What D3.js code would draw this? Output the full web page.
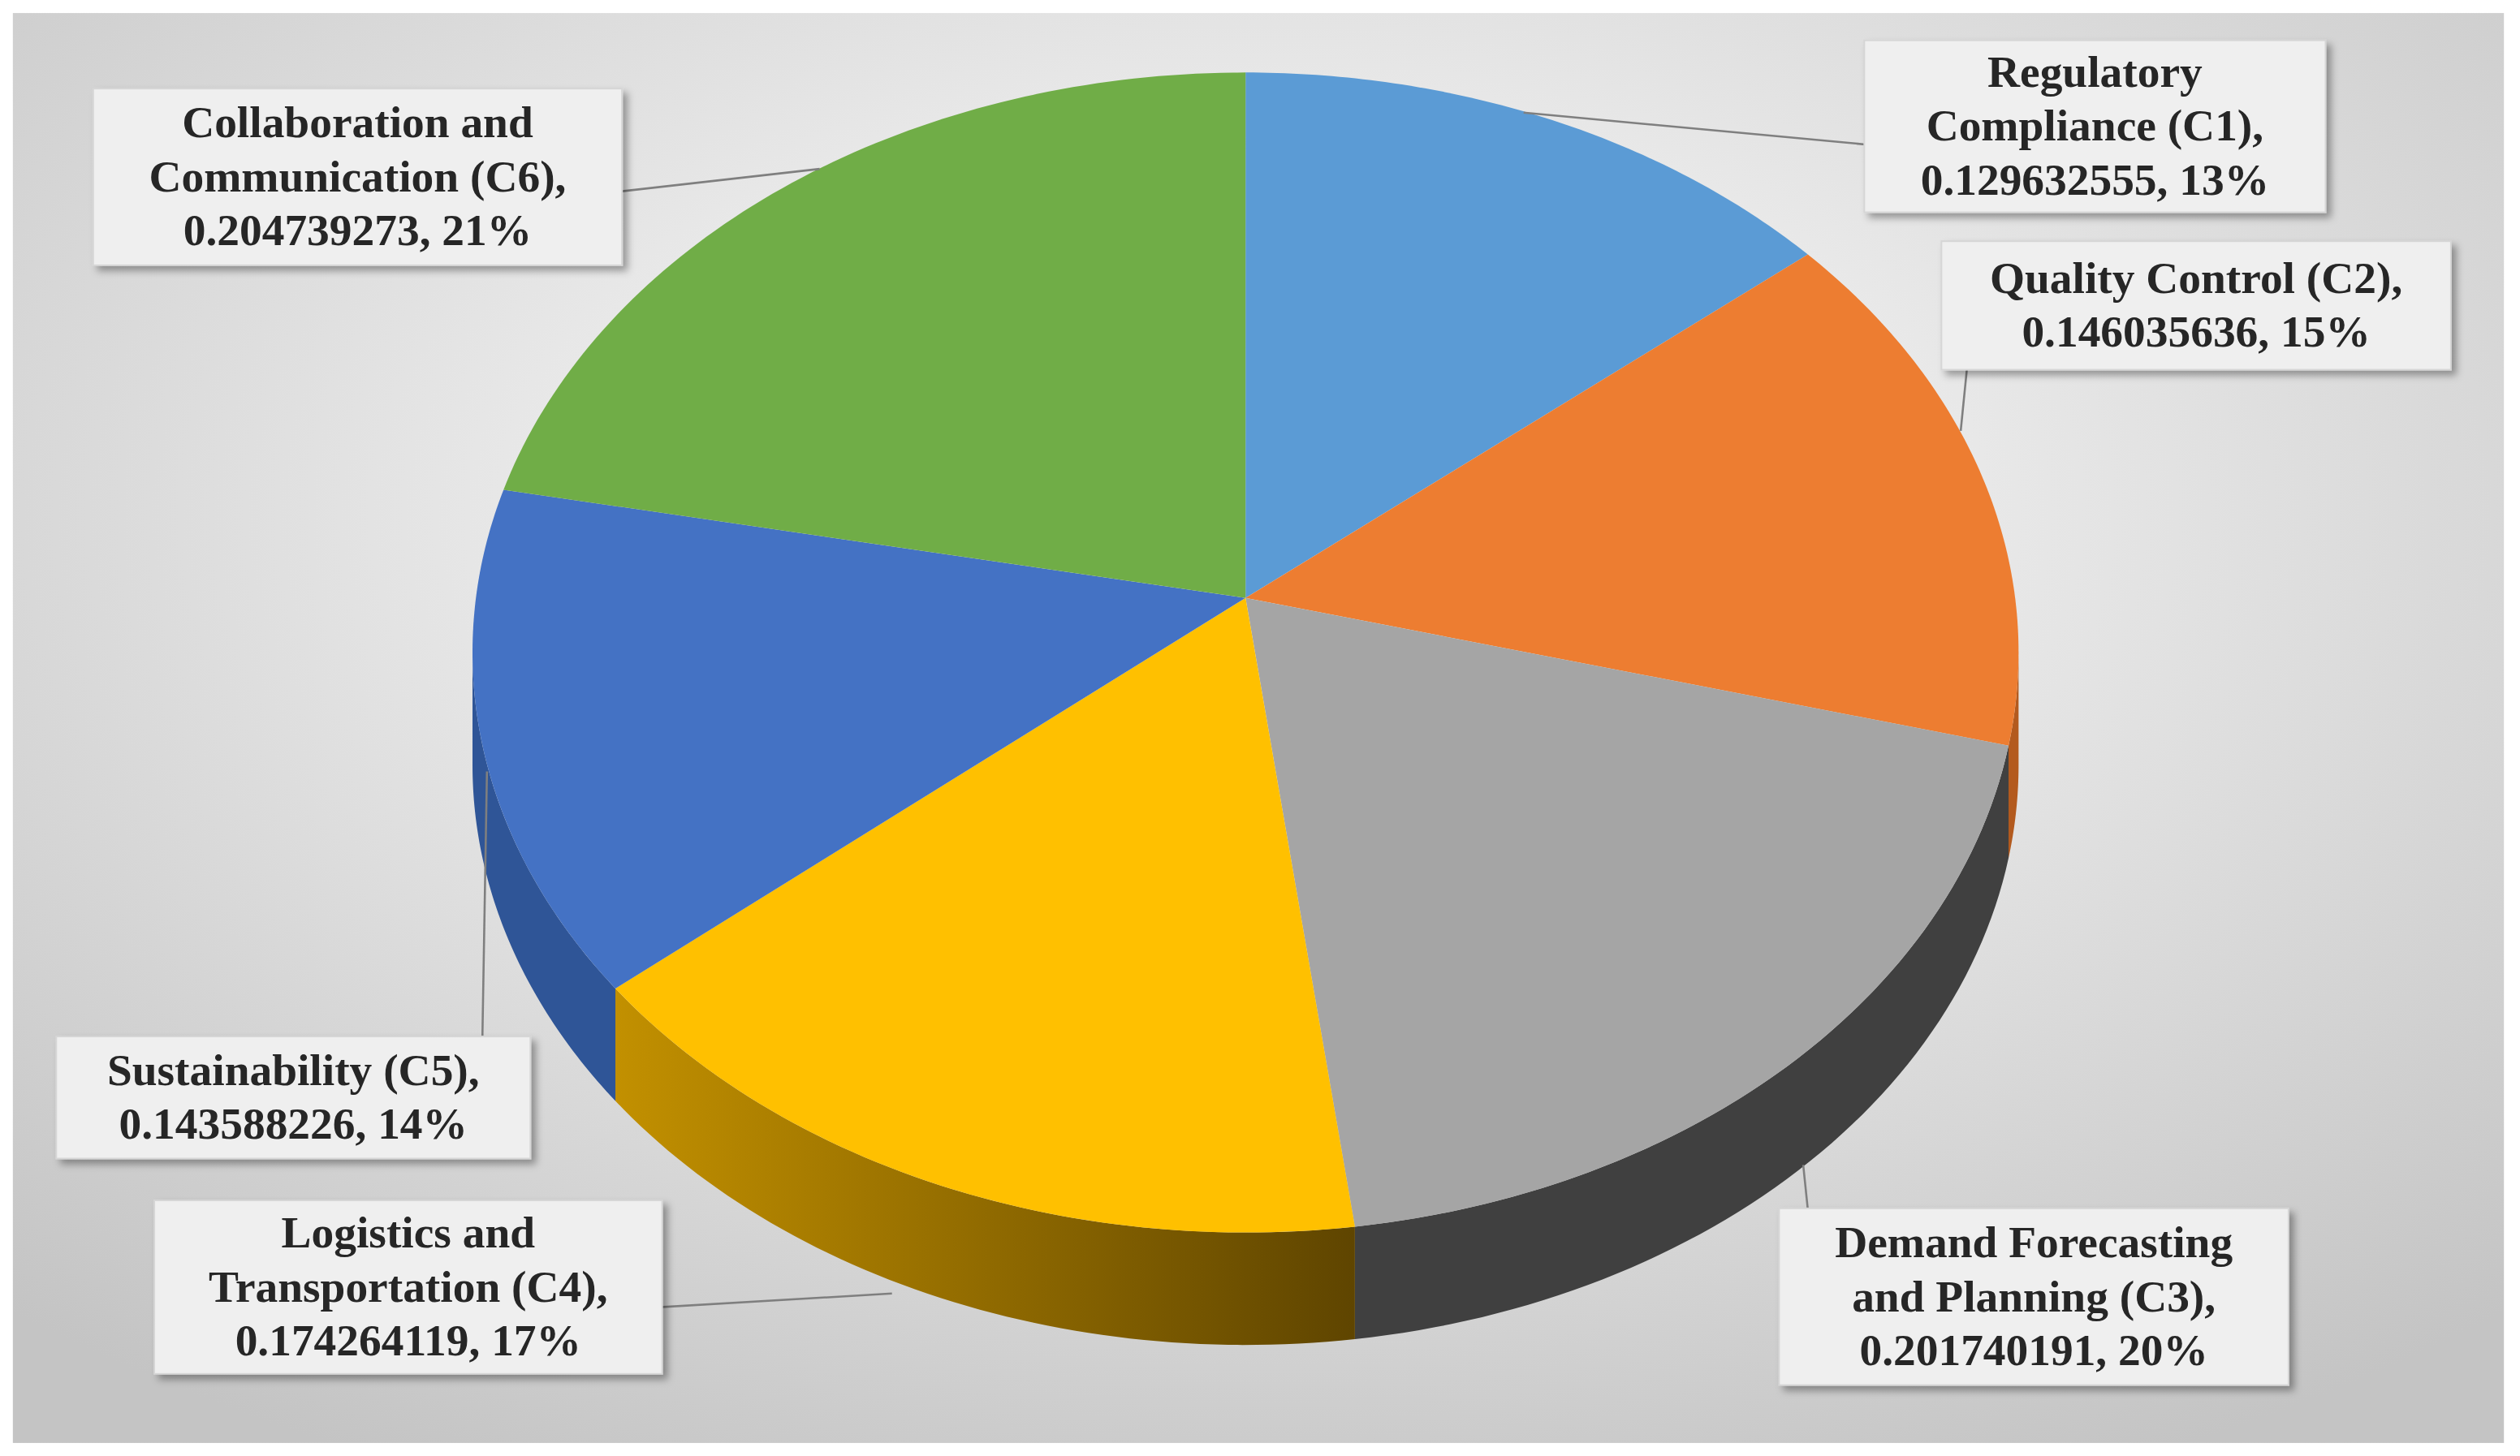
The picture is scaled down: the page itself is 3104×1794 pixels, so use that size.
<!DOCTYPE html>
<html><head><meta charset="utf-8">
<script src="https://cdn.jsdelivr.net/npm/d3@7"></script>
<style>html,body{margin:0;background:#fff}svg{display:block}</style>
</head><body>
<svg id="chart" width="3104" height="1794" viewBox="0 0 1568 906"></svg>
<script>
const categories = ['Regulatory Compliance (C1)', 'Quality Control (C2)', 'Demand Forecasting and Planning (C3)',
  'Logistics and Transportation (C4)', 'Sustainability (C5)', 'Collaboration and Communication (C6)']
const values = [0.129632555, 0.146035636, 0.201740191, 0.174264119, 0.143588226, 0.204739273]
const percents = ['13%', '15%', '20%', '17%', '14%', '21%']
const labelLines = [
  ['Regulatory', 'Compliance (C1),', '0.129632555, 13%'],
  ['Quality Control (C2),', '0.146035636, 15%'],
  ['Demand Forecasting', 'and Planning (C3),', '0.201740191, 20%'],
  ['Logistics and', 'Transportation (C4),', '0.174264119, 17%'],
  ['Sustainability (C5),', '0.143588226, 14%'],
  ['Collaboration and', 'Communication (C6),', '0.204739273, 21%']
]
const colors = ['#5b9bd5', '#ed7d31', '#a5a5a5', '#ffc000', '#4472c4', '#70ad47']
const sideColors = ['#3a6f9f', '#b35a1e', '#404040', '#7a5a00', '#2f5597', '#4e7a31']

// label boxes and leader lines (layout only)
const boxes = [
  {x:1160, y:25, w:287, h:107, lead:[[948,70],[1163,90]]},
  {x:1208, y:150, w:317, h:80, lead:[[1220,268],[1224,228]]},
  {x:1107, y:752, w:317, h:110, lead:[[1122,725],[1125,754]]},
  {x:96, y:747, w:316, h:108, lead:[[555,805],[385,815]]},
  {x:35, y:645, w:295, h:76, lead:[[303,480],[300,655]]},
  {x:58, y:55, w:329, h:110, lead:[[510,105],[360,122]]}
]

const svg = d3.select('#chart')
const defs = svg.append('defs')
const bg = defs.append('radialGradient').attr('id', 'bg').attr('cx', '50%').attr('cy', '35%').attr('r', '75%')
bg.append('stop').attr('offset', '0%').attr('stop-color', '#ffffff')
bg.append('stop').attr('offset', '100%').attr('stop-color', '#c4c4c4')
const f = defs.append('filter').attr('id', 'sh').attr('x', '-10%').attr('y', '-10%').attr('width', '130%').attr('height', '140%')
f.append('feDropShadow').attr('dx', 3).attr('dy', 3).attr('stdDeviation', 2.5).attr('flood-color', '#000').attr('flood-opacity', 0.35)
const sideGrad = defs.append('linearGradient').attr('id', 'side4').attr('x1', '0').attr('x2', '1')
sideGrad.append('stop').attr('offset', '0%').attr('stop-color', '#c29000')
sideGrad.append('stop').attr('offset', '100%').attr('stop-color', '#5f4500')

svg.append('rect').attr('x', 8).attr('y', 8).attr('width', 1550).attr('height', 890).attr('fill', 'url(#bg)')

const cx = 775, cy = 406, rx = 481, ry = 361, depth = 70
const pie = d3.pie().sort(null).value(d => d)
const arcs = pie(values)
const pt = (a, dy = 0) => [cx + rx * Math.sin(a), cy - ry * Math.cos(a) + dy]
const line = d3.line()

// side walls (front half only)
arcs.forEach((a, i) => {
  const s = Math.max(a.startAngle, Math.PI / 2), e = Math.min(a.endAngle, 3 * Math.PI / 2)
  if (e <= s) return
  const n = 60, top = d3.range(n + 1).map(k => pt(s + (e - s) * k / n))
  const bottom = top.map(p => [p[0], p[1] + depth]).reverse()
  svg.append('path').attr('d', line(top.concat(bottom)) + 'Z')
    .attr('fill', i === 3 ? 'url(#side4)' : sideColors[i])
})

// top faces
arcs.forEach((a, i) => {
  const n = 80
  const pts = [[cx, cy - 34]].concat(d3.range(n + 1).map(k => pt(a.startAngle + (a.endAngle - a.startAngle) * k / n)))
  svg.append('path').attr('d', line(pts) + 'Z').attr('fill', colors[i])
})

// leader lines and labels
boxes.forEach((b, i) => {
  svg.append('path').attr('d', line(b.lead)).attr('stroke', '#7f7f7f').attr('stroke-width', 1.3).attr('fill', 'none')
  svg.append('rect').attr('x', b.x).attr('y', b.y).attr('width', b.w).attr('height', b.h)
    .attr('fill', '#efefef').attr('stroke', '#d6d6d6').attr('filter', 'url(#sh)')
  const lines = labelLines[i]
  const lh = 33.5, y0 = b.y + b.h / 2 - (lines.length - 1) * lh / 2 + 9
  svg.append('text').attr('text-anchor', 'middle')
    .attr('font-family', '"Liberation Serif", "Times New Roman", serif').attr('font-weight', 'bold')
    .attr('font-size', 28).attr('fill', '#262626')
    .selectAll('tspan').data(lines).join('tspan')
    .attr('x', b.x + b.w / 2).attr('y', (d, k) => y0 + k * lh).text(d => d)
})
</script>
</body></html>
